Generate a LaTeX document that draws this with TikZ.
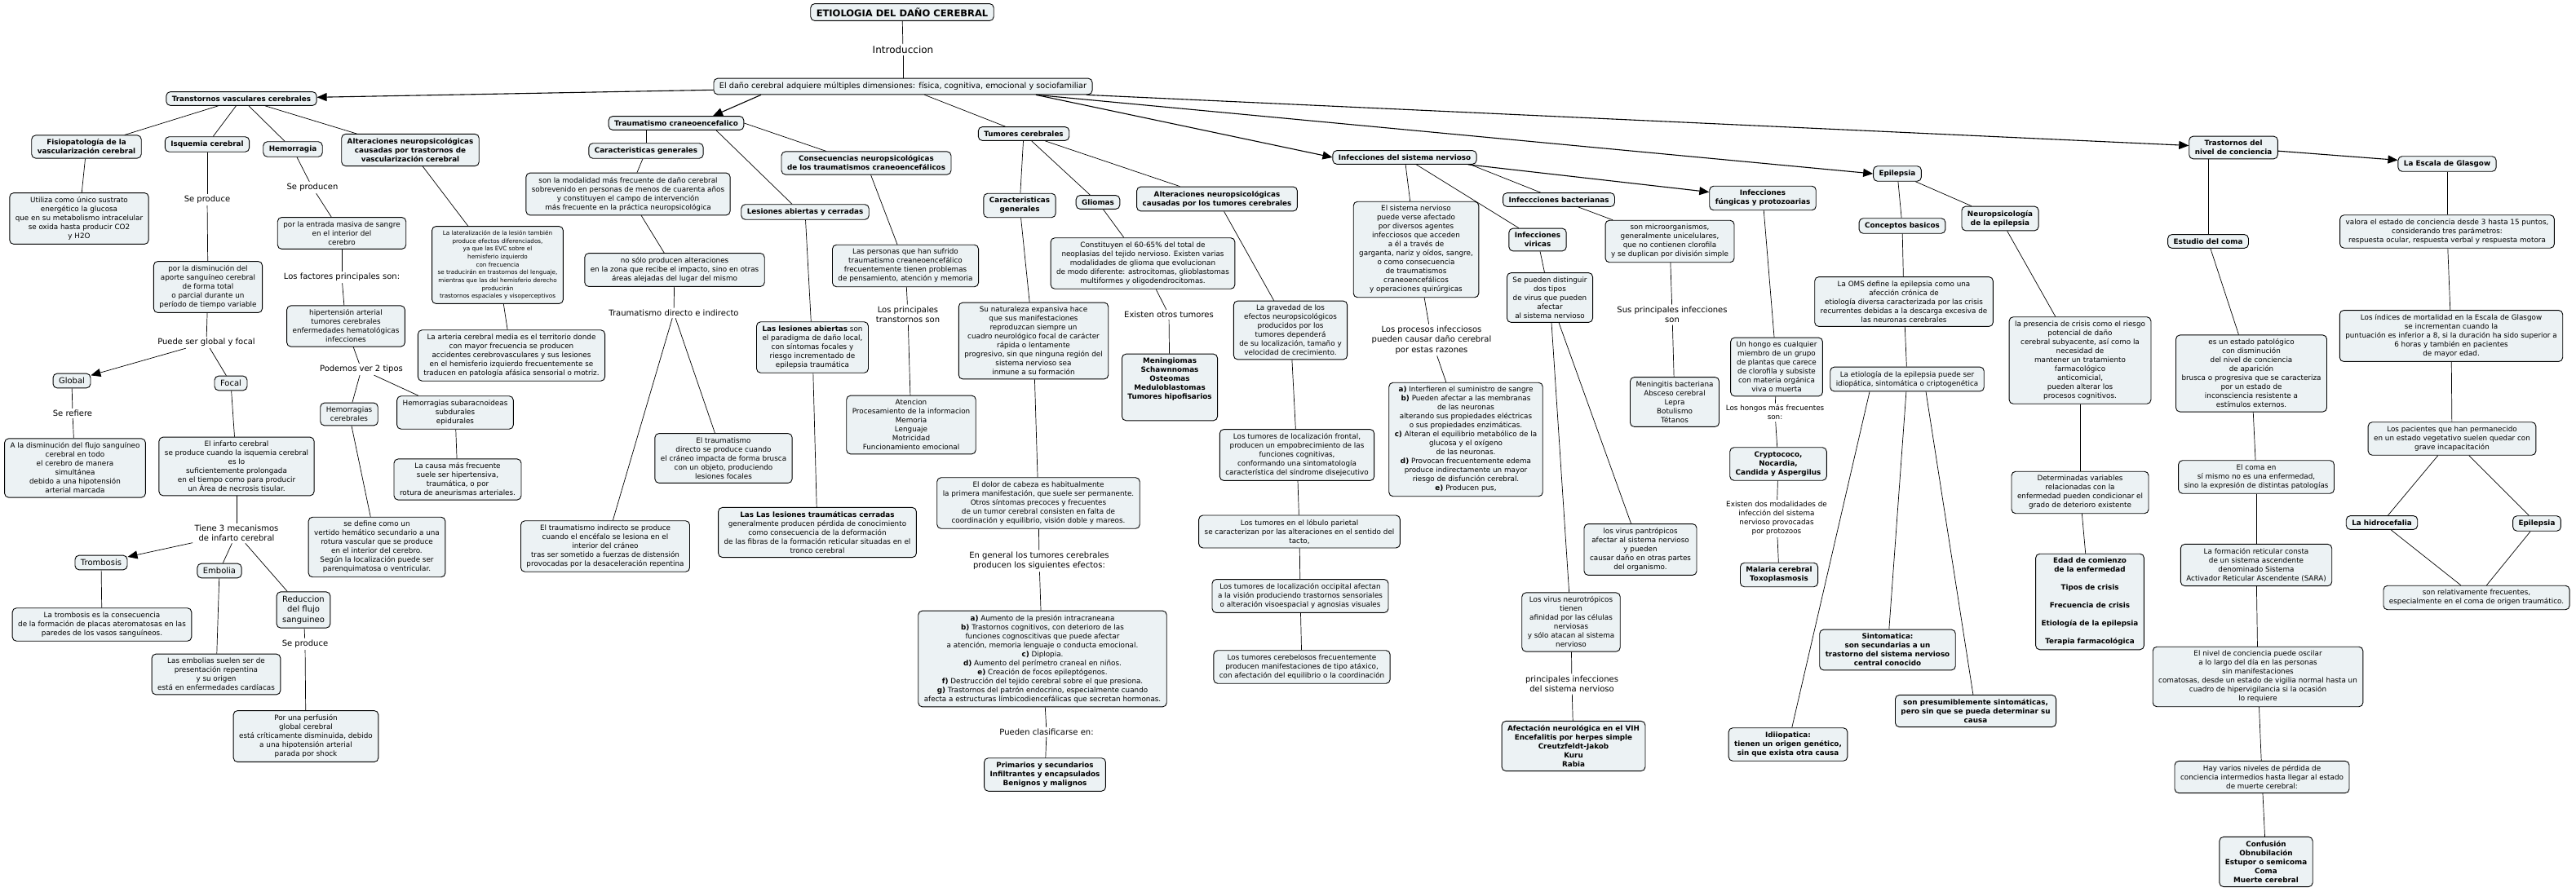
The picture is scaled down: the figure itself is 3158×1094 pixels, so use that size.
\documentclass[tikz,border=0pt]{standalone}
\usepackage{fontspec}
\setmainfont{DejaVu Sans}
\usepackage{xcolor}
\usepackage{tikz}
\usetikzlibrary{arrows.meta}

\definecolor{cmapfill}{RGB}{236,242,244}
\newcommand{\cmtext}{\fontsize{8.8}{11}\selectfont}
\newcommand{\cmsmall}{\fontsize{7.2}{9.7}\selectfont}
\newcommand{\cmhead}{\fontsize{8.8}{11}\selectfont\bfseries}
\newcommand{\cmmid}{\fontsize{10}{12.3}\selectfont}
\newcommand{\cmlink}{\fontsize{10}{12.3}\selectfont}

\begin{document}
\begin{tikzpicture}[x=1pt,y=-1pt,>={Triangle[length=12pt,width=10pt]},line width=0.7pt,
    cbox/.style={draw,line width=0.9pt,rounded corners=5pt,fill=cmapfill,align=center,font=\cmtext,inner xsep=7pt,inner ysep=5pt},
    hbox/.style={cbox,font=\cmhead},
    mbox/.style={cbox,font=\cmmid},
    sbox/.style={cbox,font=\cmsmall},
    lw/.style={align=center,font=\cmlink,inner sep=2pt},
    main/.style={->,line width=1.1pt}]
    % \tikzstyle{every node}=[draw=none]
    \useasboundingbox (0,0) rectangle (3158,1094);

    \node[hbox,font=\fontsize{11.5}{13}\selectfont\bfseries] (Title) at (1106,15) {ETIOLOGIA DEL DAÑO CEREBRAL};
    \node[lw,font=\fontsize{12}{14}\selectfont] (lIntro) at (1107,61) {Introduccion};
    \node[cbox,font=\fontsize{9.7}{12}\selectfont] (Dano) at (1107,106) {El daño cerebral adquiere múltiples dimensiones: física, cognitiva, emocional y sociofamiliar};

    % vasculares
    \node[hbox] (Tvc) at (296,121) {Transtornos vasculares cerebrales};
    \node[hbox] (Fisio) at (106,180) {Fisiopatología de la\\vascularización cerebral};
    \node[hbox] (Isq) at (254,177) {Isquemia cerebral};
    \node[hbox] (Hem) at (359,183) {Hemorragia};
    \node[hbox] (AltV) at (503,184) {Alteraciones neuropsicológicas\\causadas por trastornos de\\vascularización cerebral};
    \node[cbox] (Gluc) at (97,268) {Utiliza como único sustrato\\energético la glucosa\\que en su metabolismo intracelular\\se oxida hasta producir CO2\\y H2O};
    \node[lw] (lSeProd) at (254,245) {Se produce};
    \node[cbox] (Aporte) at (255,352) {por la disminución del\\aporte sanguíneo cerebral\\de forma total\\o parcial durante un\\período de tiempo variable};
    \node[lw] (lGlobFoc) at (253,420) {Puede ser global y focal};
    \node[mbox] (Glob) at (88,467) {Global};
    \node[mbox] (Foc) at (283,470) {Focal};
    \node[lw] (lRefiere) at (89,507) {Se refiere};
    \node[cbox] (Flujo) at (92,574) {A la disminución del flujo sanguíneo\\cerebral en todo\\el cerebro de manera\\simultánea\\debido a una hipotensión\\arterial marcada};
    \node[cbox] (Infarto) at (290,572) {El infarto cerebral\\se produce cuando la isquemia cerebral\\es lo\\suficientemente prolongada\\en el tiempo como para producir\\un Área de necrosis tisular.};
    \node[lw] (lMecan) at (290,654) {Tiene 3 mecanismos\\de infarto cerebral};
    \node[mbox] (Trombo) at (124,690) {Trombosis};
    \node[mbox] (Embo) at (269,700) {Embolia};
    \node[mbox] (Reduc) at (372,748) {Reduccion\\del flujo\\sanguineo};
    \node[cbox] (Atero) at (125,766) {La trombosis es la consecuencia\\de la formación de placas ateromatosas en las\\paredes de los vasos sanguíneos.};
    \node[cbox] (Emboli) at (265,827) {Las embolias suelen ser de\\presentación repentina\\y su origen\\está en enfermedades cardíacas};
    \node[lw] (lSeProd2) at (374,790) {Se produce};
    \node[cbox] (Perf) at (375,903) {Por una perfusión\\global cerebral\\está críticamente disminuida, debido\\a una hipotensión arterial\\parada por shock};
    \node[lw] (lSeProducen) at (383,230) {Se producen};
    \node[cbox] (Masiva) at (419,286) {por la entrada masiva de sangre\\en el interior del\\cerebro};
    \node[lw] (lFactores) at (419,340) {Los factores principales son:};
    \node[cbox] (Factores) at (424,400) {hipertensión arterial\\tumores cerebrales\\enfermedades hematológicas\\infecciones};
    \node[lw] (lDosTipos) at (443,453) {Podemos ver 2 tipos};
    \node[cbox] (HemCer) at (428,508) {Hemorragias\\cerebrales};
    \node[cbox] (HemSub) at (558,506) {Hemorragias subaracnoideas\\subdurales\\epidurales};
    \node[cbox] (Vertido) at (462,671) {se define como un\\vertido hemático secundario a una\\rotura vascular que se produce\\en el interior del cerebro.\\Según la localización puede ser\\parenquimatosa o ventricular.};
    \node[cbox] (Causa) at (561,588) {La causa más frecuente\\suele ser hipertensiva,\\traumática, o por\\rotura de aneurismas arteriales.};
    \node[sbox] (Lateral) at (610,325) {La lateralización de la lesión también\\produce efectos diferenciados,\\ya que las EVC sobre el\\hemisferio izquierdo\\con frecuencia\\se traducirán en trastornos del lenguaje,\\mientras que las del hemisferio derecho\\producirán\\trastornos espaciales y visoperceptivos};
    \node[cbox] (Arteria) at (627,436) {La arteria cerebral media es el territorio donde\\con mayor frecuencia se producen\\accidentes cerebrovasculares y sus lesiones\\en el hemisferio izquierdo frecuentemente se\\traducen en patología afásica sensorial o motriz.};

    % traumatismo
    \node[hbox] (Trauma) at (829,151) {Traumatismo craneoencefalico};
    \node[hbox] (CarT) at (792,185) {Caracteristicas generales};
    \node[cbox] (Modal) at (770,238) {son la modalidad más frecuente de daño cerebral\\sobrevenido en personas de menos de cuarenta años\\y constituyen el campo de intervención\\más frecuente en la práctica neuropsicológica};
    \node[cbox] (NoSolo) at (827,331) {no sólo producen alteraciones\\en la zona que recibe el impacto, sino en otras\\áreas alejadas del lugar del mismo};
    \node[lw] (lDirecto) at (826,384) {Traumatismo directo e indirecto};
    \node[cbox] (Directo) at (887,562) {El traumatismo\\directo se produce cuando\\el cráneo impacta de forma brusca\\con un objeto, produciendo\\lesiones focales};
    \node[cbox] (Indirecto) at (742,670) {El traumatismo indirecto se produce\\cuando el encéfalo se lesiona en el\\interior del cráneo\\tras ser sometido a fuerzas de distensión\\provocadas por la desaceleración repentina};
    \node[hbox] (Lesion) at (987,260) {Lesiones abiertas y cerradas};
    \node[cbox] (Abiertas) at (996,426) {\textbf{Las lesiones abiertas} son\\el paradigma de daño local,\\con síntomas focales y\\riesgo incrementado de\\epilepsia traumática};
    \node[cbox] (Cerradas) at (1002,653) {\textbf{Las Las lesiones traumáticas cerradas}\\generalmente producen pérdida de conocimiento\\como consecuencia de la deformación\\de las fibras de la formación reticular situadas en el\\tronco cerebral};
    \node[hbox] (Conseq) at (1062,200) {Consecuencias neuropsicológicas\\de los traumatismos craneoencefálicos};
    \node[cbox] (Personas) at (1110,326) {Las personas que han sufrido\\traumatismo creaneoencefálico\\frecuentemente tienen problemas\\de pensamiento, atención y memoria};
    \node[lw] (lTrans) at (1113,386) {Los principales\\transtornos son};
    \node[cbox] (Atencion) at (1117,521) {Atencion\\Procesamiento de la informacion\\Memoria\\Lenguaje\\Motricidad\\Funcionamiento emocional};

    % tumores
    \node[hbox] (Tumor) at (1255,164) {Tumores cerebrales};
    \node[hbox] (CarTum) at (1250,252) {Caracteristicas\\generales};
    \node[cbox] (Expan) at (1267,418) {Su naturaleza expansiva hace\\que sus manifestaciones\\reproduzcan siempre un\\cuadro neurológico focal de carácter\\rápida o lentamente\\progresivo, sin que ninguna región del\\sistema nervioso sea\\inmune a su formación};
    \node[cbox] (Dolor) at (1273,617) {El dolor de cabeza es habitualmente\\la primera manifestación, que suele ser permanente.\\Otros síntomas precoces y frecuentes\\de un tumor cerebral consisten en falta de\\coordinación y equilibrio, visión doble y mareos.};
    \node[lw] (lEfectos) at (1274,688) {En general los tumores cerebrales\\producen los siguientes efectos:};
    \node[cbox] (Efectos) at (1278,808) {\textbf{a)} Aumento de la presión intracraneana\\\textbf{b)} Trastornos cognitivos, con deterioro de las\\funciones cognoscitivas que puede afectar\\a atención, memoria lenguaje o conducta emocional.\\\textbf{c)} Diplopia.\\\textbf{d)} Aumento del perímetro craneal en niños.\\\textbf{e)} Creación de focos epileptógenos.\\\textbf{f)} Destrucción del tejido cerebral sobre el que presiona.\\\textbf{g)} Trastornos del patrón endocrino, especialmente cuando\\afecta a estructuras límbicodiencefálicas que secretan hormonas.};
    \node[lw] (lClasif) at (1283,898) {Pueden clasificarse en:};
    \node[hbox] (Prim) at (1281,950) {Primarios y secundarios\\Infiltrantes y encapsulados\\Benignos y malignos};
    \node[hbox] (Glioma) at (1346,248) {Gliomas};
    \node[cbox] (Glio) at (1401,323) {Constituyen el 60-65\% del total de\\neoplasias del tejido nervioso. Existen varias\\modalidades de glioma que evolucionan\\de modo diferente: astrocitomas, glioblastomas\\multiformes y oligodendrocitomas.};
    \node[lw] (lOtros) at (1433,386) {Existen otros tumores};
    \node[hbox] (Otros) at (1434,475) {Meningiomas\\Schawnnomas\\Osteomas\\Meduloblastomas\\Tumores hipofisarios\\[10pt]};
    \node[hbox] (AltTum) at (1492,244) {Alteraciones neuropsicológicas\\causadas por los tumores cerebrales};
    \node[cbox] (Grave) at (1582,405) {La gravedad de los\\efectos neuropsicológicos\\producidos por los\\tumores dependerá\\de su localización, tamaño y\\velocidad de crecimiento.};
    \node[cbox] (Frontal) at (1590,558) {Los tumores de localización frontal,\\producen un empobrecimiento de las\\funciones cognitivas,\\conformando una sintomatología\\característica del síndrome disejecutivo};
    \node[cbox] (Parietal) at (1593,652) {Los tumores en el lóbulo parietal\\se caracterizan por las alteraciones en el sentido del\\tacto,};
    \node[cbox] (Occip) at (1594,731) {Los tumores de localización occipital afectan\\a la visión produciendo trastornos sensoriales\\o alteración visoespacial y agnosias visuales};
    \node[cbox] (Cerebelo) at (1596,818) {Los tumores cerebelosos frecuentemente\\producen manifestaciones de tipo atáxico,\\con afectación del equilibrio o la coordinación};

    % infecciones
    \node[hbox] (InfSN) at (1722,193) {Infecciones del sistema nervioso};
    \node[cbox] (Agentes) at (1736,306) {El sistema nervioso\\puede verse afectado\\por diversos agentes\\infecciosos que acceden\\a él a través de\\garganta, nariz y oídos, sangre,\\o como consecuencia\\de traumatismos\\craneoencefálicos\\y operaciones quirúrgicas};
    \node[lw] (lRazones) at (1755,417) {Los procesos infecciosos\\pueden causar daño cerebral\\por estas razones};
    \node[cbox] (Razones) at (1797,539) {\textbf{a)} Interfieren el suministro de sangre\\\textbf{b)} Pueden afectar a las membranas\\de las neuronas\\alterando sus propiedades eléctricas\\o sus propiedades enzimáticas.\\\textbf{c)} Alteran el equilibrio metabólico de la\\glucosa y el oxígeno\\de las neuronas.\\\textbf{d)} Provocan frecuentemente edema\\produce indirectamente un mayor\\riesgo de disfunción cerebral.\\\textbf{e)} Producen pus,};
    \node[hbox] (Viricas) at (1885,294) {Infecciones\\viricas};
    \node[cbox] (DosTipos) at (1900,365) {Se pueden distinguir\\dos tipos\\de virus que pueden\\afectar\\al sistema nervioso};
    \node[cbox] (Neurotrop) at (1926,763) {Los virus neurotrópicos\\tienen\\afinidad por las células\\nerviosas\\y sólo atacan al sistema\\nervioso};
    \node[lw] (lPrinc) at (1927,839) {principales infecciones\\del sistema nervioso};
    \node[hbox] (VIH) at (1929,915) {Afectación neurológica en el VIH\\Encefalitis por herpes simple\\Creutzfeldt-Jakob\\Kuru\\Rabia};
    \node[cbox] (Pantrop) at (2011,674) {los virus pantrópicos\\afectar al sistema nervioso\\y pueden\\causar daño en otras partes\\del organismo.};
    \node[hbox] (Bact) at (1911,245) {Infeccciones bacterianas};
    \node[cbox] (Microorg) at (2047,296) {son microorganismos,\\generalmente unicelulares,\\que no contienen clorofila\\y se duplican por división simple};
    \node[lw] (lSusPrinc) at (2050,386) {Sus principales infecciones\\son};
    \node[cbox] (Mening) at (2053,493) {Meningitis bacteriana\\Absceso cerebral\\Lepra\\Botulismo\\Tétanos};
    \node[hbox] (Fung) at (2161,243) {Infecciones\\fúngicas y protozoarias};
    \node[cbox] (Hongo) at (2178,450) {Un hongo es cualquier\\miembro de un grupo\\de plantas que carece\\de clorofila y subsiste\\con materia orgánica\\viva o muerta};
    \node[lw,font=\cmtext] (lHongos) at (2176,506) {Los hongos más frecuentes\\son:};
    \node[hbox] (Crypto) at (2180,569) {Cryptococo,\\Nocardia,\\Candida y Aspergilus};
    \node[lw,font=\cmtext] (lModal) at (2178,636) {Existen dos modalidades de\\infección del sistema\\nervioso provocadas\\por protozoos};
    \node[hbox] (Malaria) at (2181,705) {Malaria cerebral\\Toxoplasmosis};

    % epilepsia
    \node[hbox] (Epi) at (2326,213) {Epilepsia};
    \node[hbox] (Concep) at (2332,277) {Conceptos basicos};
    \node[cbox] (OMS) at (2334,370) {La OMS define la epilepsia como una\\afección crónica de\\etiología diversa caracterizada por las crisis\\recurrentes debidas a la descarga excesiva de\\las neuronas cerebrales};
    \node[cbox] (Etio) at (2338,465) {La etiología de la epilepsia puede ser\\idiopática, sintomática o criptogenética};
    \node[hbox] (Idio) at (2192,913) {Idiiopatica:\\tienen un origen genético,\\sin que exista otra causa};
    \node[hbox] (Sinto) at (2314,797) {Sintomatica:\\son secundarias a un\\trastorno del sistema nervioso\\central conocido};
    \node[hbox] (Presum) at (2422,872) {son presumiblemente sintomáticas,\\pero sin que se pueda determinar su\\causa};
    \node[hbox] (NeuroEpi) at (2452,268) {Neuropsicología\\de la epilepsia};
    \node[cbox] (Presencia) at (2550,442) {la presencia de crisis como el riesgo\\potencial de daño\\cerebral subyacente, así como la\\necesidad de\\mantener un tratamiento\\farmacológico\\anticomicial,\\pueden alterar los\\procesos cognitivos.};
    \node[cbox] (Variables) at (2550,604) {Determinadas variables\\relacionadas con la\\enfermedad pueden condicionar el\\grado de deterioro existente};
    \node[hbox] (Edad) at (2562,738) {Edad de comienzo\\de la enfermedad\\[11pt]Tipos de crisis\\[11pt]Frecuencia de crisis\\[11pt]Etiología de la epilepsia\\[11pt]Terapia farmacológica};

    % conciencia
    \node[hbox] (TrasNiv) at (2738,181) {Trastornos del\\nivel de conciencia};
    \node[hbox] (Glasgow) at (3000,201) {La Escala de Glasgow};
    \node[hbox] (Coma) at (2707,296) {Estudio del coma};
    \node[cbox] (Patol) at (2760,458) {es un estado patológico\\con disminución\\del nivel de conciencia\\de aparición\\brusca o progresiva que se caracteriza\\por un estado de\\inconsciencia resistente a\\estímulos externos.};
    \node[cbox] (ComaEn) at (2766,585) {El coma en\\sí mismo no es una enfermedad,\\sino la expresión de distintas patologías};
    \node[cbox] (Sara) at (2766,693) {La formación reticular consta\\de un sistema ascendente\\denominado Sistema\\Activador Reticular Ascendente (SARA)};
    \node[cbox] (Oscilar) at (2768,830) {El nivel de conciencia puede oscilar\\a lo largo del día en las personas\\sin manifestaciones\\comatosas, desde un estado de vigilia normal hasta un\\cuadro de hipervigilancia si la ocasión\\lo requiere};
    \node[cbox] (Niveles) at (2773,953) {Hay varios niveles de pérdida de\\conciencia intermedios hasta llegar al estado\\de muerte cerebral:};
    \node[hbox] (Muerte) at (2778,1057) {Confusión\\Obnubilación\\Estupor o semicoma\\Coma\\Muerte cerebral};
    \node[cbox] (Valora) at (3000,284) {valora el estado de conciencia desde 3 hasta 15 puntos,\\considerando tres parámetros:\\respuesta ocular, respuesta verbal y respuesta motora};
    \node[cbox] (Mortal) at (3005,412) {Los índices de mortalidad en la Escala de Glasgow\\se incrementan cuando la\\puntuación es inferior a 8, si la duración ha sido superior a\\6 horas y también en pacientes\\de mayor edad.};
    \node[cbox] (Veget) at (3006,538) {Los pacientes que han permanecido\\en un estado vegetativo suelen quedar con\\grave incapacitación};
    \node[hbox] (Hidro) at (2920,641) {La hidrocefalia};
    \node[hbox] (Epi2) at (3110,642) {Epilepsia};
    \node[cbox] (Frec) at (3036,733) {son relativamente frecuentes,\\especialmente en el coma de origen traumático.};

    % enlaces principales
    \path (Title) edge (lIntro) (lIntro) edge (Dano)
          (Dano) edge[main] (Tvc)
          ([xshift=-174pt]Dano.south) edge[main] ([xshift=45pt]Trauma.north)
          (Dano) edge (Tumor)
          ([xshift=163pt]Dano.south) edge[main] (InfSN.west)
          ([xshift=163pt]Dano.south) edge[main] (Epi.west)
          (Dano) edge[main] (TrasNiv)
          (InfSN) edge[main] (Fung)
          (TrasNiv) edge[main] (Glasgow);

    \path (Tvc) edge (Fisio) (Tvc) edge (Isq) (Tvc) edge (Hem) (Tvc) edge (AltV)
          (Fisio) edge (Gluc)
          (Isq) edge (lSeProd) (lSeProd) edge (Aporte)
          (Aporte) edge (lGlobFoc) (lGlobFoc) edge[->] (Glob) (lGlobFoc) edge (Foc)
          (Glob) edge (lRefiere) (lRefiere) edge (Flujo)
          (Foc) edge (Infarto) (Infarto) edge (lMecan)
          (lMecan) edge[->] (Trombo) (lMecan) edge (Embo) (lMecan) edge (Reduc)
          (Trombo) edge (Atero) (Embo) edge (Emboli)
          (Reduc) edge (lSeProd2) (lSeProd2) edge (Perf)
          (Hem) edge (lSeProducen) (lSeProducen) edge (Masiva)
          (Masiva) edge (lFactores) (lFactores) edge (Factores)
          (Factores) edge (lDosTipos) (lDosTipos) edge (HemCer) (lDosTipos) edge (HemSub)
          (HemCer) edge (Vertido) (HemSub) edge (Causa)
          (AltV) edge (Lateral) (Lateral) edge (Arteria);

    \path (CarT.north) edge (CarT.north |- Trauma.south)
          ([xshift=49pt]Trauma.south) edge ([xshift=-16pt]Lesion.north)
          (Trauma.east) edge ([xshift=-49pt]Conseq.north)
          (CarT) edge (Modal) (Modal) edge (NoSolo) (NoSolo) edge (lDirecto)
          (lDirecto) edge (Directo) (lDirecto) edge (Indirecto)
          (Lesion) edge (Abiertas) (Abiertas) edge (Cerradas)
          (Conseq) edge (Personas) (Personas) edge (lTrans) (lTrans) edge (Atencion);

    \path (Tumor) edge (CarTum) (Tumor) edge (Glioma) (Tumor) edge (AltTum)
          (CarTum) edge (Expan) (Expan) edge (Dolor) (Dolor) edge (lEfectos)
          (lEfectos) edge (Efectos) (Efectos) edge (lClasif) (lClasif) edge (Prim)
          (Glioma) edge (Glio) (Glio) edge (lOtros) (lOtros) edge (Otros)
          (AltTum) edge (Grave) (Grave) edge (Frontal) (Frontal) edge (Parietal)
          (Parietal) edge (Occip) (Occip) edge (Cerebelo);

    \path (InfSN) edge (Agentes) (InfSN) edge (Viricas)
          ([xshift=-8pt]InfSN.south east) edge (Bact)
          (Agentes) edge (lRazones) (lRazones) edge (Razones)
          (Viricas) edge (DosTipos) (DosTipos) edge (Neurotrop) (DosTipos) edge (Pantrop)
          (Neurotrop) edge (lPrinc) (lPrinc) edge (VIH)
          (Bact) edge (Microorg) (Microorg) edge (lSusPrinc) (lSusPrinc) edge (Mening)
          (Fung) edge (Hongo) (Hongo) edge (lHongos) (lHongos) edge (Crypto)
          (Crypto) edge (lModal) (lModal) edge (Malaria);

    \path (Epi) edge (Concep) (Epi) edge (NeuroEpi)
          (Concep) edge (OMS) (OMS) edge (Etio)
          ([xshift=-46pt]Etio.south) edge (Idio)
          (Etio) edge (Sinto)
          ([xshift=23pt]Etio.south) edge (Presum)
          (NeuroEpi) edge (Presencia) (Presencia) edge (Variables) (Variables) edge (Edad);

    \path (Coma.north) edge (Coma.north |- TrasNiv.south)
          (Coma) edge (Patol) (Patol) edge (ComaEn) (ComaEn) edge (Sara)
          (Sara) edge (Oscilar) (Oscilar) edge (Niveles) (Niveles) edge (Muerte)
          (Glasgow) edge (Valora) (Valora) edge (Mortal) (Mortal) edge (Veget)
          (Veget) edge (Hidro) (Veget) edge (Epi2)
          (Hidro) edge (Frec) (Epi2) edge (Frec);
\end{tikzpicture}
\end{document}
